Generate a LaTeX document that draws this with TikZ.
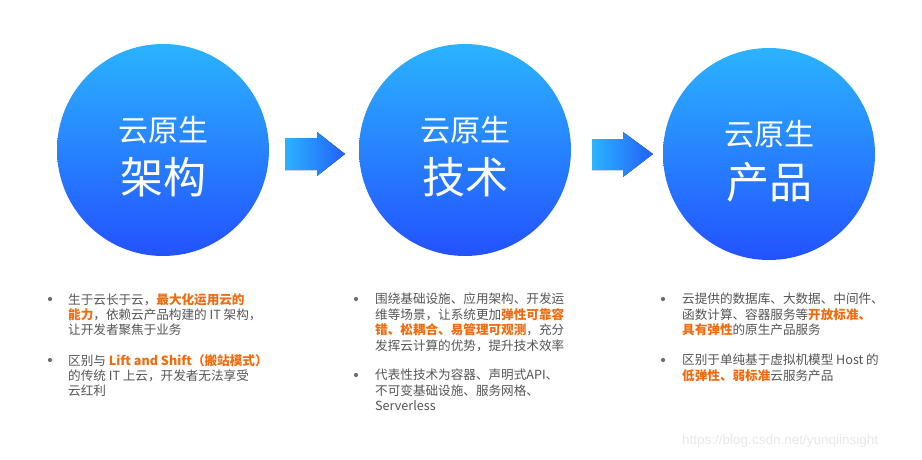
\documentclass[tikz,border=0pt]{standalone}
\usepackage{fontspec}
\setmainfont{Noto Sans CJK SC}
\newfontfamily\wmfont{Liberation Sans}
\definecolor{ctop}{HTML}{2BB3FF}
\definecolor{cbot}{HTML}{2352FF}
\definecolor{aleft}{HTML}{2BB3FF}
\definecolor{aright}{HTML}{2360F8}
\definecolor{txtgray}{HTML}{555555}
\definecolor{hiorange}{HTML}{F26B0F}
\definecolor{wmgray}{HTML}{E8E8E8}
\newcommand{\hl}[1]{{\bfseries\color{hiorange}#1}}
\tikzset{
  bigcircle/.style={circle, minimum size=212pt, inner sep=0pt, top color=ctop, bottom color=cbot, draw=none},
  toptitle/.style={text=white, font=\fontsize{30}{32}\selectfont, inner sep=0pt},
  bigtitle/.style={text=white, font=\fontsize{43}{45}\selectfont, inner sep=0pt},
  blockarrow/.style={left color=aleft, right color=aright, draw=none},
  para/.style={anchor=north west, inner sep=0pt, align=left, text=txtgray, font=\fontsize{12.6}{15.4}\selectfont},
  bulletdot/.style={circle, fill=txtgray!85, inner sep=0pt, minimum size=4.2pt}
}
\begin{document}
\begin{tikzpicture}[x=1pt,y=-1pt]
\useasboundingbox[fill=white] (0,0) rectangle (922,460);
% circles
\node[bigcircle] (c1) at (163,150) {};
\node[bigcircle] (c2) at (465,150) {};
\node[bigcircle] (c3) at (769,154) {};
\node[toptitle] (t1a) at (163,130) {云原生};
\node[bigtitle] (t1b) at (163,177) {架构};
\node[toptitle] (t2a) at (465,130) {云原生};
\node[bigtitle] (t2b) at (465,177) {技术};
\node[toptitle] (t3a) at (769,134) {云原生};
\node[bigtitle] (t3b) at (769,182) {产品};
% block arrows
\fill[blockarrow] (285,138) -- (317,138) -- (317,132) -- (345,154) -- (317,176) -- (317,170) -- (285,170) -- cycle;
\fill[blockarrow] (592,139) -- (623,139) -- (623,132) -- (653,154) -- (623,177) -- (623,170) -- (592,170) -- cycle;
% column 1
\node[bulletdot] (b11) at (50,299) {};
\node[para] (p11) at (68,293) {生于云长于云，\hl{最大化运用云的}\\\hl{能力}，依赖云产品构建的 IT 架构，\\让开发者聚焦于业务};
\node[bulletdot] (b12) at (50,360) {};
\node[para] (p12) at (68,354) {区别与 \hl{Lift and Shift（搬站模式）}\\的传统 IT 上云，开发者无法享受\\云红利};
% column 2
\node[bulletdot] (b21) at (356,299) {};
\node[para] (p21) at (375,293) {围绕基础设施、应用架构、开发运\\维等场景，让系统更加\hl{弹性可靠容}\\\hl{错、松耦合、易管理可观测}，充分\\发挥云计算的优势，提升技术效率};
\node[bulletdot] (b22) at (356,375) {};
\node[para] (p22) at (375,369) {代表性技术为容器、声明式API、\\不可变基础设施、服务网格、\\Serverless};
% column 3
\node[bulletdot] (b31) at (663,299) {};
\node[para] (p31) at (682,293) {云提供的数据库、大数据、中间件、\\函数计算、容器服务等\hl{开放标准、}\\\hl{具有弹性}的原生产品服务};
\node[bulletdot] (b32) at (663,360) {};
\node[para] (p32) at (682,354) {区别于单纯基于虚拟机模型 Host 的\\\hl{低弹性、弱标准}云服务产品};
% watermark
\node[anchor=west, inner sep=0pt, text=wmgray, font=\wmfont\fontsize{13.5}{14}\selectfont] (wm) at (682,441) {https://blog.csdn.net/yunqiinsight};
\end{tikzpicture}
\end{document}
